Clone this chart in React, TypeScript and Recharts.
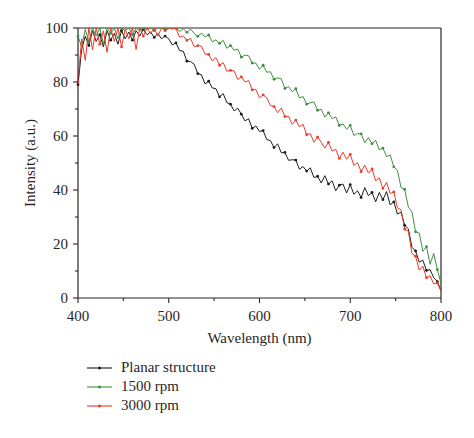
import React from 'react';
import { LineChart, Line, XAxis, YAxis, ReferenceLine } from 'recharts';

// wavelength grid (nm)
const wavelengths = [
  400, 404, 408, 412, 416, 420, 424, 428, 432, 436, 440, 444, 448, 452, 456, 460, 464, 468, 472, 476,
  480, 484, 488, 492, 496, 500, 504, 508, 512, 516, 520, 524, 528, 532, 536, 540, 544, 548, 552, 556,
  560, 564, 568, 572, 576, 580, 584, 588, 592, 596, 600, 604, 608, 612, 616, 620, 624, 628, 632, 636,
  640, 644, 648, 652, 656, 660, 664, 668, 672, 676, 680, 684, 688, 692, 696, 700, 704, 708, 712, 716,
  720, 724, 728, 732, 736, 740, 744, 748, 752, 756, 760, 764, 768, 772, 776, 780, 784, 788, 792, 796,
  800,
];

const planar = [
  79, 92, 97, 93.5, 99, 95, 97.5, 93, 99, 95.5, 98, 94, 99, 96, 98.5, 95.5, 99, 97, 99.5, 97.5,
  98.5, 96.5, 98, 96, 97, 96.0, 93.7, 94.5, 91.6, 91.4, 87.7, 87.6, 86.6, 83.1, 82.7, 79.3, 80.3, 77.8, 77.5, 74.5,
  75.7, 72.4, 71.8, 69.3, 70.3, 68.1, 65.6, 66.4, 62.8, 63.7, 61.7, 62.0, 58.7, 58.3, 55.7, 57.1, 53.8, 53.9, 51.0, 51.2,
  51.1, 47.7, 48.7, 47.0, 48.2, 44.6, 45.1, 42.6, 45.3, 42.2, 43.4, 39.7, 41.8, 42.2, 38.9, 42.0, 38.4, 39.7, 37.2, 40.9,
  37.9, 39.1, 35.6, 39.1, 36.4, 39.4, 34.5, 35.6, 31.1, 31.8, 26.9, 25.6, 18.8, 17.4, 13.3, 14.0, 10.2, 10.5, 7.5, 6.1,
  2.7,
];

const rpm1500 = [
  97, 93, 99.5, 95, 100, 97, 100, 94, 100, 98, 100, 96, 100, 99, 100, 97.5, 100, 99, 100, 99.5,
  100, 99, 100, 100, 99.5, 100, 99.6, 100, 98.7, 99.7, 98.4, 99.6, 98.0, 96.9, 98.1, 96.7, 97.4, 94.9, 95.6, 94.3,
  95.4, 92.5, 93.5, 91.8, 92.2, 89.2, 90.0, 89.7, 87.0, 87.0, 84.7, 86.2, 83.6, 83.8, 81.0, 81.5, 81.2, 77.6, 78.3, 76.4,
  77.5, 74.1, 74.6, 71.8, 72.3, 72.6, 69.5, 69.9, 67.0, 68.6, 66.4, 67.1, 63.9, 64.5, 62.5, 63.9, 60.2, 60.9, 60.8, 57.5,
  59.4, 57.1, 58.4, 54.9, 55.5, 52.4, 53.0, 48.6, 47.2, 40.9, 40.2, 33.7, 31.9, 24.5, 24.0, 17.3, 19.0, 12.5, 16.5, 10.5,
  5.5,
];

const rpm3000 = [
  80, 96, 88, 100, 92, 100, 94, 99, 91, 100, 95, 100, 93, 99.5, 96, 100, 92, 100, 97, 100,
  98, 100, 97, 100, 99, 99.8, 100, 99.8, 96.6, 97.1, 95.4, 96.2, 93.0, 93.5, 93.3, 90.3, 90.2, 87.8, 89.0, 86.2,
  87.2, 84.0, 84.3, 84.1, 80.9, 81.9, 80.0, 80.5, 77.1, 77.2, 74.1, 75.2, 74.2, 71.3, 70.9, 68.6, 70.4, 67.2, 67.3, 64.3,
  65.9, 63.4, 64.3, 60.5, 60.9, 57.7, 59.6, 57.7, 55.5, 57.6, 54.4, 55.1, 51.7, 54.0, 51.4, 53.2, 49.1, 50.1, 46.8, 49.2,
  46.3, 47.8, 43.4, 44.5, 40.6, 42.8, 38.7, 39.3, 33.4, 32.7, 25.5, 24.7, 16.5, 15.5, 10.3, 11.8, 7.5, 8.2, 5.2, 5.6,
  2.5,
];

const xTicks = [400, 450, 500, 550, 600, 650, 700, 750, 800];
const yTicks = [0, 10, 20, 30, 40, 50, 60, 70, 80, 90, 100];

const series = [
  { key: 'planar', name: 'Planar structure', color: '#1c1c1c' },
  { key: 'rpm1500', name: '1500 rpm', color: '#3f8f3f' },
  { key: 'rpm3000', name: '3000 rpm', color: '#ee3a2a' },
];

const data = wavelengths.map((wl, i) => ({
  wl,
  planar: planar[i],
  rpm1500: rpm1500[i],
  rpm3000: rpm3000[i],
}));

const FONT = '"Liberation Serif", "DejaVu Serif", serif';
const INK = '#2a2526';

function XTick(props: any) {
  const { x, y, payload } = props;
  const major = payload.value % 100 === 0;
  return (
    <g>
      <line x1={x} x2={x} y1={y} y2={y + (major ? 5 : 3)} stroke={INK} strokeWidth={1.1} />
      {major && (
        <text x={x} y={y + 22.5} textAnchor="middle" fontFamily={FONT} fontSize={15} fill={INK}>
          {payload.value}
        </text>
      )}
    </g>
  );
}

function YTick(props: any) {
  const { x, y, payload } = props;
  const major = payload.value % 20 === 0;
  return (
    <g>
      <line x1={x - (major ? 5 : 3)} x2={x} y1={y} y2={y} stroke={INK} strokeWidth={1.1} />
      {major && (
        <text x={x - 10} y={y + 5} textAnchor="end" fontFamily={FONT} fontSize={15} fill={INK}>
          {payload.value}
        </text>
      )}
    </g>
  );
}

// only every third sample carries a marker
const makeDot = (color: string) => (props: any) => {
  const { cx, cy, index, key } = props;
  if (index % 3 !== 0 || cx == null || cy == null) return <g key={key} />;
  return <circle key={key} cx={cx} cy={cy} r={1.4} fill={color} stroke="none" />;
};

function LegendBox() {
  return (
    <div style={{ position: 'absolute', left: 87, top: 358, fontFamily: FONT, fontSize: 15, color: INK }}>
      {series.map((s) => (
        <div key={s.key} style={{ display: 'flex', alignItems: 'center', height: 19, lineHeight: '19px' }}>
          <svg width={25} height={10} style={{ display: 'block' }}>
            <line x1={0} x2={25} y1={5} y2={5} stroke={s.color} strokeWidth={1.1} />
            <circle cx={12.5} cy={5} r={1.5} fill={s.color} />
          </svg>
          <span style={{ marginLeft: 9, whiteSpace: 'nowrap' }}>{s.name}</span>
        </div>
      ))}
    </div>
  );
}

export default function App() {
  return (
    <div style={{ position: 'absolute', left: 0, top: 0, width: 474, height: 438, background: '#fff' }}>
      <LineChart width={474} height={438} data={data} margin={{ top: 28, right: 33, left: 0, bottom: 95 }}>
        <XAxis
          dataKey="wl"
          type="number"
          domain={[400, 800]}
          ticks={xTicks}
          interval={0}
          height={45}
          tickSize={0}
          tickMargin={0}
          tickLine={false}
          tick={<XTick />}
          axisLine={{ stroke: INK, strokeWidth: 1.2 }}
          label={{ value: 'Wavelength (nm)', position: 'insideBottom', offset: 0, fontFamily: FONT, fontSize: 15, fill: INK }}
        />
        <YAxis
          type="number"
          domain={[0, 100]}
          ticks={yTicks}
          interval={0}
          width={78}
          allowDataOverflow
          tickSize={0}
          tickMargin={0}
          tickLine={false}
          tick={<YTick />}
          axisLine={{ stroke: INK, strokeWidth: 1.2 }}
          label={{
            content: (p: any) => {
              const vb = p.viewBox || { x: 0, y: 28, width: 78, height: 270 };
              const cx = vb.x + 30;
              const cy = vb.y + vb.height / 2;
              return (
                <text
                  x={cx}
                  y={cy}
                  transform={`rotate(-90, ${cx}, ${cy})`}
                  textAnchor="middle"
                  dominantBaseline="central"
                  fontFamily={FONT}
                  fontSize={15}
                  fill={INK}
                >
                  Intensity (a.u.)
                </text>
              );
            },
          }}
        />
        <ReferenceLine y={100} stroke={INK} strokeWidth={1.2} />
        <ReferenceLine x={800} stroke={INK} strokeWidth={1.2} />
        {series.map((s) => (
          <Line
            key={s.key}
            type="linear"
            dataKey={s.key}
            name={s.name}
            stroke={s.color}
            strokeWidth={1}
            dot={makeDot(s.color)}
            activeDot={false}
            isAnimationActive={false}
          />
        ))}
      </LineChart>
      <LegendBox />
    </div>
  );
}
